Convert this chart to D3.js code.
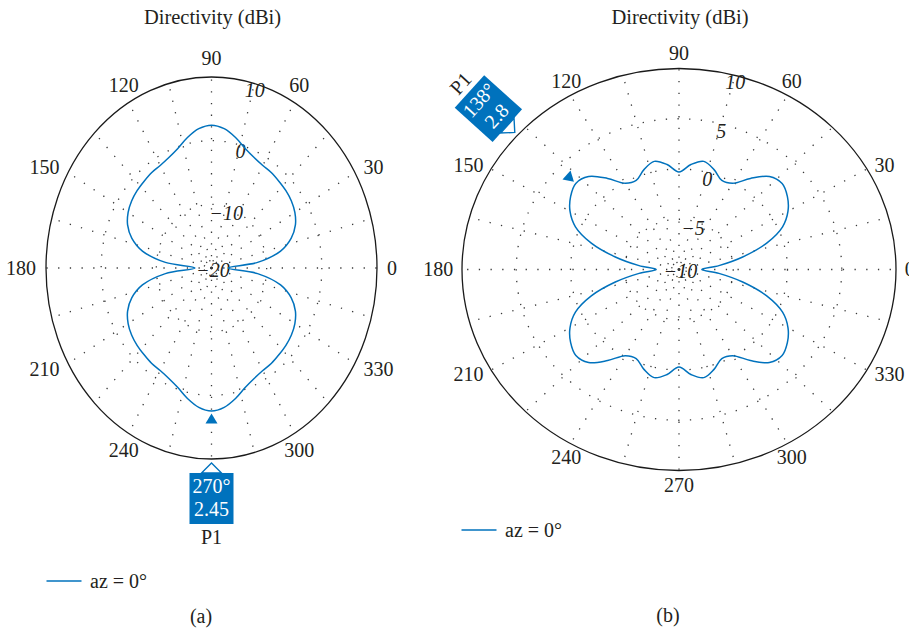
<!DOCTYPE html>
<html>
<head>
<meta charset="utf-8">
<script src="https://cdn.jsdelivr.net/npm/d3@7"></script>
<style>
  html, body { margin: 0; padding: 0; background: #fff; }
  svg { display: block; font-family: "Liberation Serif", "Times New Roman", serif; }
</style>
</head>
<body>
<svg id="fig" width="909" height="629"></svg>
<script>
// Sample angles (degrees) shared by both patterns
const angles = [0, 6, 12, 18, 24, 30, 36, 42, 48, 54, 60, 66, 72, 78, 84, 90,
  96, 102, 108, 114, 120, 126, 132, 138, 144, 150, 156, 162, 168, 174, 180,
  186, 192, 198, 204, 210, 216, 222, 228, 234, 240, 246, 252, 258, 264, 270,
  276, 282, 288, 294, 300, 306, 312, 318, 324, 330, 336, 342, 348, 354];

// Directivity (dBi), elevation cut az = 0°, panel (a)
const directivityA = [-17.0, -11.6, -7.2, -4.8, -3.35, -2.55, -2.1, -1.85, -1.7, -1.5, -1.4, -1.0, -0.25, 0.95, 2.0, 2.44,
  2.0, 0.95, -0.25, -1.0, -1.4, -1.5, -1.7, -1.85, -2.1, -2.55, -3.35, -4.8, -7.2, -11.6, -17.0,
  -11.6, -7.2, -4.8, -3.35, -2.55, -2.1, -1.85, -1.7, -1.5, -1.4, -1.0, -0.25, 0.95, 2.0, 2.45,
  2.0, 0.95, -0.25, -1.0, -1.4, -1.5, -1.7, -1.85, -2.1, -2.55, -3.35, -4.8, -7.2, -11.6];

// Directivity (dBi), elevation cut az = 0°, panel (b)
const directivityB = [-7.9, -6.3, -4.0, -1.5, 0.45, 1.6, 2.35, 2.79, 2.45, 1.2, -0.1, -0.3, 0.45, 1.0, 0.5, -0.3,
  0.5, 1.0, 0.45, -0.3, -0.1, 1.2, 2.45, 2.8, 2.35, 1.6, 0.45, -1.5, -4.0, -6.3, -7.9,
  -6.3, -4.0, -1.5, 0.45, 1.6, 2.35, 2.79, 2.45, 1.2, -0.1, -0.3, 0.45, 1.0, 0.5, -0.3,
  0.5, 1.0, 0.45, -0.3, -0.1, 1.2, 2.45, 2.79, 2.35, 1.6, 0.45, -1.5, -4.0, -6.3];

// Angle tick labels and grid spokes
const angleTicks = [0, 30, 60, 90, 120, 150, 180, 210, 240, 270, 300, 330];
const spokeAngles = [0, 15, 30, 45, 60, 75, 90, 105, 120, 135, 150, 165, 180,
  195, 210, 225, 240, 255, 270, 285, 300, 315, 330, 345];

// Magnitude ticks
const magTicksA = [-20, -10, 0, 10];
const magTicksB = [-10, -5, 0, 5, 10];

// Peak markers
const peakAngleA = 270;
const peakAngleB = 138;

const BLUE = "#0072bd";
const INK = "#231f20";
const DOT = "#3a3a3a";
const svg = d3.select("#fig");
const rad = d => d * Math.PI / 180;

function panel(cfg) {
  const g = svg.append("g");
  const r = d3.scaleLinear().domain([cfg.ticks[0], cfg.ticks[cfg.ticks.length - 1]]).range([0, 1]);
  const px = (deg, v) => cfg.cx + cfg.rx * r(v) * Math.cos(rad(deg));
  const py = (deg, v) => cfg.cy - cfg.ry * r(v) * Math.sin(rad(deg));
  const rMax = cfg.ticks[cfg.ticks.length - 1];

  // dotted magnitude rings
  g.selectAll("ellipse.ring").data(cfg.ticks.slice(1, -1)).enter().append("ellipse")
    .attr("class", "ring")
    .attr("cx", cfg.cx).attr("cy", cfg.cy)
    .attr("rx", d => cfg.rx * r(d)).attr("ry", d => cfg.ry * r(d))
    .attr("fill", "none").attr("stroke", DOT).attr("stroke-width", 1.3)
    .attr("stroke-dasharray", "1.3 10.4");

  // dotted angle spokes
  g.selectAll("line.spoke").data(spokeAngles).enter().append("line")
    .attr("class", "spoke")
    .attr("x1", cfg.cx).attr("y1", cfg.cy)
    .attr("x2", d => px(d, rMax)).attr("y2", d => py(d, rMax))
    .attr("stroke", DOT).attr("stroke-width", 1.3)
    .attr("stroke-dasharray", "1.3 10.4")
    .attr("stroke-dashoffset", (d, i) => (i % 2 ? 5 : 0));

  // outer boundary
  g.append("ellipse")
    .attr("cx", cfg.cx).attr("cy", cfg.cy).attr("rx", cfg.rx).attr("ry", cfg.ry)
    .attr("fill", "none").attr("stroke", "#1a1a1a").attr("stroke-width", 1.3);

  // angle labels around the boundary (the one under the data tip is covered)
  g.selectAll("text.ang").data(angleTicks.filter(d => d !== cfg.covered)).enter().append("text")
    .attr("class", "ang")
    .each(function (d) {
      const c = Math.cos(rad(d)), s = Math.sin(rad(d));
      const ax = cfg.cx + cfg.rx * cfg.lab * c;
      const ay = cfg.cy - cfg.ry * cfg.lab * s;
      const anchor = c > 0.7 ? "start" : (c < -0.7 ? "end" : "middle");
      const cy = s > 0.7 ? ay - 7 : (s < -0.7 ? ay + 7 : ay);
      d3.select(this).attr("x", ax).attr("y", cy + 6.8).attr("text-anchor", anchor);
    })
    .attr("font-size", 20).attr("fill", INK)
    .text(d => d);

  // magnitude labels along the 75° direction
  g.selectAll("text.mag").data(cfg.ticks).enter().append("text")
    .attr("class", "mag")
    .attr("x", d => cfg.cx + 1.5 + cfg.rx * Math.max(0, r(d) - 0.025) * Math.cos(rad(75)))
    .attr("y", d => cfg.cy + 2 + 6.8 - cfg.ry * Math.max(0, r(d) - 0.025) * Math.sin(rad(75)))
    .attr("text-anchor", "middle")
    .attr("font-size", 20).attr("font-style", "italic").attr("fill", INK)
    .text(d => (d < 0 ? "\u2212" + Math.abs(d) : String(d)));

  // pattern curve
  const pts = angles.map((a, i) => [a, cfg.values[i]]);
  const line = d3.line()
    .x(d => px(d[0], d[1]))
    .y(d => py(d[0], d[1]))
    .curve(d3.curveCatmullRomClosed.alpha(0.5));
  g.append("path").attr("d", line(pts))
    .attr("fill", "none").attr("stroke", BLUE).attr("stroke-width", 1.5);

  // title
  g.append("text").attr("x", cfg.cx + 1).attr("y", 23.5).attr("text-anchor", "middle")
    .attr("font-size", 20.5).attr("fill", INK).text("Directivity (dBi)");

  // legend
  g.append("line").attr("x1", cfg.legX).attr("x2", cfg.legX + 35)
    .attr("y1", cfg.legY).attr("y2", cfg.legY)
    .attr("stroke", BLUE).attr("stroke-width", 1.5);
  g.append("text").attr("x", cfg.legX + 43.5).attr("y", cfg.legY + 6.8)
    .attr("font-size", 20).attr("fill", INK).text("az = 0\u00b0");

  // caption
  g.append("text").attr("x", cfg.capX).attr("y", cfg.capY).attr("text-anchor", "middle")
    .attr("font-size", 20).attr("fill", INK).text(cfg.caption);

  // peak marker on the curve and its data tip outside the boundary
  const k = angles.indexOf(cfg.peak);
  const pv = cfg.values[k];
  const th = rad(cfg.peak);
  // rotation that points local +y outward
  let psi = Math.atan2(-Math.cos(th), -Math.sin(th)) * 180 / Math.PI;
  g.append("path")
    .attr("transform", `translate(${px(cfg.peak, pv)},${py(cfg.peak, pv)}) rotate(${psi})`)
    .attr("d", "M0,2.5 L6,12.5 L-6,12.5 Z")
    .attr("fill", BLUE);

  let dir = 1;
  if (psi > 90 || psi < -90) { psi -= 180 * Math.sign(psi); dir = -1; }
  const tx = cfg.cx + (cfg.rx + 4) * Math.cos(th);
  const ty = cfg.cy - (cfg.ry + 4) * Math.sin(th);
  const tipG = g.append("g").attr("transform", `translate(${tx},${ty}) rotate(${psi})`);
  const boxNear = 10 * dir, boxFar = 61 * dir;
  tipG.append("rect")
    .attr("x", -22).attr("y", Math.min(boxNear, boxFar))
    .attr("width", 44).attr("height", 51)
    .attr("fill", BLUE);
  tipG.append("path")
    .attr("d", `M0,0 L10,${boxNear} L-10,${boxNear} Z`)
    .attr("fill", "#fff").attr("stroke", BLUE).attr("stroke-width", 1.4);
  const top = Math.min(boxNear, boxFar);
  const lines = [[top + 13, cfg.peak + "\u00b0"], [top + 36.5, String(pv)]];
  lines.forEach(([yy, t]) => tipG.append("text").attr("x", 0).attr("y", yy + 6.8)
    .attr("text-anchor", "middle").attr("font-size", 20).attr("fill", "#fff").text(t));
  const p1y = dir === 1 ? boxFar + 13 : boxFar - 12;
  tipG.append("text").attr("x", 0).attr("y", p1y + 6.8)
    .attr("text-anchor", "middle").attr("font-size", 20).attr("fill", INK).text("P1");
}

panel({
  cx: 211.5, cy: 268, rx: 165.5, ry: 191, lab: 1.06, covered: 270,
  ticks: magTicksA, values: directivityA, peak: peakAngleA,
  legX: 46.5, legY: 581, capX: 201, capY: 623, caption: "(a)"
});
panel({
  cx: 679, cy: 269.5, rx: 217, ry: 201, lab: 1.04, covered: null,
  ticks: magTicksB, values: directivityB, peak: peakAngleB,
  legX: 461.5, legY: 530, capX: 668, capY: 622, caption: "(b)"
});
</script>
</body>
</html>
